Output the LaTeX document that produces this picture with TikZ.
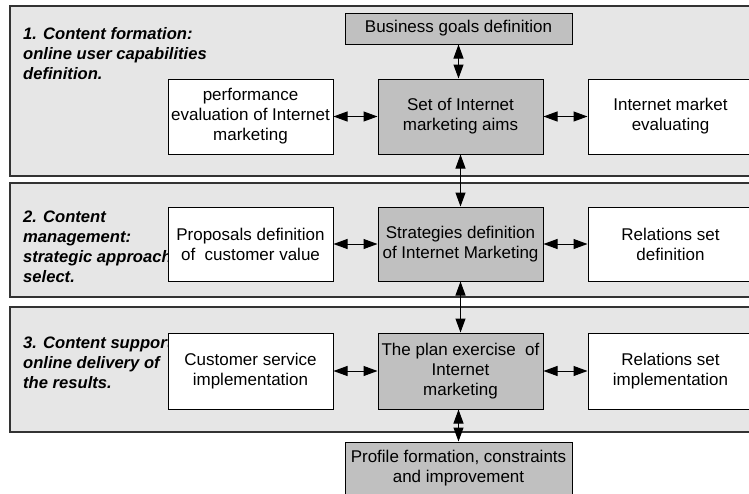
\documentclass[tikz,border=0pt]{standalone}
\usepackage{fontspec}
\setmainfont{Liberation Sans}
\usetikzlibrary{arrows.meta}
\definecolor{bandgray}{HTML}{E6E6E6}
\definecolor{boxgray}{HTML}{C0C0C0}

\begin{document}
\begin{tikzpicture}[x=1pt, y=-1pt,
    stage/.style={draw=black!80, fill=bandgray, line width=1.2pt},
    whitebox/.style={draw, fill=white, line width=1pt, minimum width=165pt, minimum height=75pt,
      align=center, inner sep=2pt, font=\fontsize{17}{20}\selectfont},
    graybox/.style={whitebox, fill=boxgray},
    stagelabel/.style={anchor=north west, inner sep=0pt, align=left,
      font=\fontsize{16.6}{20}\selectfont\bfseries\itshape},
    link/.style={{Triangle[length=14pt,width=10pt]}-{Triangle[length=14pt,width=10pt]}, line width=1pt}]
      \useasboundingbox (0,0) rectangle (749,493);
      \clip (0,0) rectangle (749,493);

      % Stages
      \draw[stage] (10,6) rectangle (760,176);
      \draw[stage] (10,183) rectangle (760,297);
      \draw[stage] (10,307) rectangle (760,432);

      % Stage labels
      \node[stagelabel] (lab1) at (23,27) {1. Content formation:\\online user capabilities\\definition.};
      \node[stagelabel] (lab2) at (23,211) {2. Content\\management:\\strategic approach\\select.};
      \node[stagelabel] (lab3) at (23,337) {3. Content support\\online delivery of\\the results.};

      % Boxes
      \node[graybox, minimum width=227pt, minimum height=31pt] (goals) at (458.5,28.5) {Business goals definition};
      \node[whitebox] (perf) at (250.5,116.5) {performance\\evaluation of Internet\\marketing};
      \node[graybox] (aims) at (460.5,116.5) {Set of Internet\\marketing aims};
      \node[whitebox] (market) at (670.5,116.5) {Internet market\\evaluating};

      \node[whitebox, minimum height=74pt] (prop) at (250.5,244) {Proposals definition\\of~ customer value};
      \node[graybox, minimum height=74pt] (strat) at (460.5,244) {Strategies definition\\of Internet Marketing};
      \node[whitebox, minimum height=74pt] (relset) at (670.5,244) {Relations set\\definition};

      \node[whitebox, minimum height=76pt] (cust) at (250.5,371) {Customer service\\implementation};
      \node[graybox, minimum height=76pt] (plan) at (460.5,371) {The plan exercise~ of\\Internet\\marketing};
      \node[whitebox, minimum height=76pt] (relimpl) at (670.5,371) {Relations set\\implementation};

      \node[graybox, minimum width=227pt, minimum height=52pt] (profile) at (458.5,468) {Profile formation, constraints\\and improvement};

      % Links
      \draw[link] (goals.south) -- (goals.south |- aims.north);
      \draw[link] (perf) -- (aims);
      \draw[link] (aims) -- (market);
      \draw[link] (aims) -- (strat);
      \draw[link] (prop) -- (strat);
      \draw[link] (strat) -- (relset);
      \draw[link] (strat) -- (plan);
      \draw[link] (cust) -- (plan);
      \draw[link] (plan) -- (relimpl);
      \draw[link] (profile.north |- plan.south) -- (profile.north);
\end{tikzpicture}
\end{document}
